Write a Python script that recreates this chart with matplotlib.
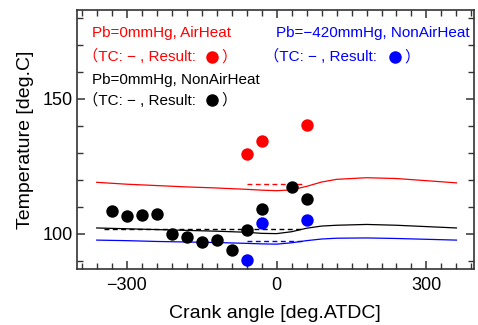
import matplotlib
matplotlib.use('Agg')
import matplotlib.pyplot as plt
from matplotlib.ticker import MultipleLocator

plt.rcParams['font.family'] = ['Liberation Sans', 'Noto Sans CJK JP']
plt.rcParams['axes.unicode_minus'] = True

# calculated temperature curves (solid)
crank = [-360, -300, -240, -180, -120, -60, -30, 0, 30, 60, 90, 120, 180, 240, 300, 360]
red_calc = [119.1, 118.4, 117.9, 117.4, 117.0, 116.5, 116.2, 116.0, 116.3, 117.6, 119.2, 120.2, 120.8, 120.5, 119.7, 118.9]
black_calc = [102.2, 101.9, 101.6, 101.3, 101.0, 100.6, 100.2, 100.1, 100.8, 102.1, 102.9, 103.2, 103.5, 103.2, 102.7, 102.2]
blue_calc = [97.7, 97.5, 97.2, 97.0, 96.8, 96.5, 96.3, 96.2, 96.7, 97.5, 98.1, 98.4, 98.5, 98.3, 98.0, 97.7]

# mean values (dashed)
red_mean_x = [-60, 50]
red_mean = [118.3, 118.3]
black_mean_x = [-345, 50]
black_mean = [101.7, 101.7]
blue_mean_x = [-60, 50]
blue_mean = [97.5, 97.5]

# measured results
black_x = [-330, -300, -270, -240, -210, -180, -150, -120, -90, -60, -30, 30, 60]
black_y = [108.4, 106.7, 106.9, 107.2, 100.1, 98.9, 97.0, 97.9, 94.2, 101.6, 109.4, 117.4, 112.8]
red_x = [-60, -30, 60]
red_y = [129.6, 134.4, 140.5]
blue_x = [-60, -30, 60]
blue_y = [90.2, 104.1, 105.1]

fig = plt.figure(figsize=(4.78, 3.25), dpi=100)
ax = fig.add_axes([0.1605, 0.1723, 0.831, 0.7977])

ax.plot(crank, red_calc, color='red', lw=0.9)
ax.plot(crank, black_calc, color='black', lw=0.9)
ax.plot(crank, blue_calc, color='blue', lw=0.9)
ax.plot(red_mean_x, red_mean, color='red', lw=1.0, ls=(0, (3.5, 2.5)))
ax.plot(black_mean_x, black_mean, color='black', lw=1.0, ls=(0, (3.5, 2.5)))
ax.plot(blue_mean_x, blue_mean, color='blue', lw=1.0, ls=(0, (3.5, 2.5)))

ax.scatter(black_x, black_y, s=80, color='black', zorder=3, linewidths=0)
ax.scatter(red_x, red_y, s=80, color='red', zorder=3, linewidths=0)
ax.scatter(blue_x, blue_y, s=80, color='blue', zorder=3, linewidths=0)

ax.set_xlim(-400, 395)
ax.set_ylim(87, 183)
ax.xaxis.set_major_locator(MultipleLocator(300))
ax.xaxis.set_minor_locator(MultipleLocator(30))
ax.yaxis.set_major_locator(MultipleLocator(50))
ax.yaxis.set_minor_locator(MultipleLocator(10))
ax.tick_params(which='both', direction='in', top=True, right=True, labelsize=13, color='#333333')
ax.tick_params(axis='x', which='major', length=6, width=1.1, pad=6)
ax.tick_params(axis='y', which='major', length=6, width=1.1, pad=3)
ax.tick_params(which='minor', length=4, width=1.0)
for s in ax.spines.values():
    s.set_linewidth(1.2)
    s.set_color('#333333')

ax.set_xlabel('Crank angle [deg.ATDC]', fontsize=14, labelpad=8)
ax.set_ylabel('Temperature [deg.C]', fontsize=14, labelpad=6)

# legend-like annotations
fs = 11
ax.text(0.038, 0.910, 'Pb=0mmHg, AirHeat', color='red', fontsize=fs, transform=ax.transAxes, va='center')
ax.text(0.015, 0.818, '（TC: − , Result:', color='red', fontsize=fs, transform=ax.transAxes, va='center')
ax.plot([0.340], [0.818], 'o', color='red', ms=9, mew=0, transform=ax.transAxes)
ax.text(0.365, 0.818, '）', color='red', fontsize=fs, transform=ax.transAxes, va='center')

ax.text(0.038, 0.729, 'Pb=0mmHg, NonAirHeat', color='black', fontsize=fs, transform=ax.transAxes, va='center')
ax.text(0.015, 0.652, '（TC: − , Result:', color='black', fontsize=fs, transform=ax.transAxes, va='center')
ax.plot([0.340], [0.652], 'o', color='black', ms=9, mew=0, transform=ax.transAxes)
ax.text(0.365, 0.652, '）', color='black', fontsize=fs, transform=ax.transAxes, va='center')

ax.text(0.990, 0.910, 'Pb=−420mmHg, NonAirHeat', color='blue', fontsize=fs, transform=ax.transAxes, va='center', ha='right')
ax.text(0.472, 0.818, '（TC: − , Result:', color='blue', fontsize=fs, transform=ax.transAxes, va='center')
ax.plot([0.801], [0.818], 'o', color='blue', ms=9, mew=0, transform=ax.transAxes)
ax.text(0.826, 0.818, '）', color='blue', fontsize=fs, transform=ax.transAxes, va='center')

fig.savefig('out.png', dpi=100)
